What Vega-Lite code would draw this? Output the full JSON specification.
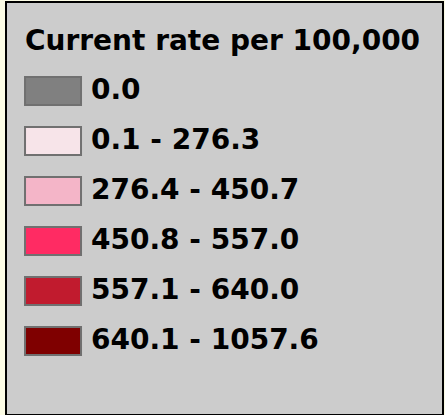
{
  "$schema": "https://vega.github.io/schema/vega-lite/v6.json",
  "width": 445,
  "height": 415,
  "autosize": {"type": "fit", "contains": "padding"},
  "padding": {"left": 6, "top": 2, "right": 2, "bottom": 0},
  "background": "#fbfbe4",
  "view": {"fill": "#cccccc", "stroke": "#000000", "strokeWidth": 2},
  "data": {
    "values": [
      {"range": "0.0", "low": 0, "high": 0},
      {"range": "0.1 - 276.3", "low": 0.1, "high": 276.3},
      {"range": "276.4 - 450.7", "low": 276.4, "high": 450.7},
      {"range": "450.8 - 557.0", "low": 450.8, "high": 557.0},
      {"range": "557.1 - 640.0", "low": 557.1, "high": 640.0},
      {"range": "640.1 - 1057.6", "low": 640.1, "high": 1057.6}
    ]
  },
  "mark": {"type": "rect", "opacity": 0},
  "encoding": {
    "color": {
      "field": "range",
      "type": "nominal",
      "title": "Current rate per 100,000",
      "scale": {
        "domain": ["0.0", "0.1 - 276.3", "276.4 - 450.7", "450.8 - 557.0", "557.1 - 640.0", "640.1 - 1057.6"],
        "range": ["#808080", "#f7e4e9", "#f4b5c8", "#ff2b63", "#c11b2e", "#7f0000"]
      },
      "legend": {
        "orient": "none",
        "legendX": 19,
        "legendY": 26,
        "padding": 0,
        "symbolType": "M-1.07,-1H2.93V1H-1.07Z",
        "symbolSize": 784,
        "symbolStrokeColor": "#707070",
        "symbolStrokeWidth": 2,
        "symbolOpacity": 1,
        "labelFont": "DejaVu Sans",
        "labelFontSize": 28,
        "labelFontWeight": "bold",
        "labelColor": "#000000",
        "labelOffset": 36,
        "labelLimit": 0,
        "titleFont": "DejaVu Sans",
        "titleFontSize": 28,
        "titleFontWeight": "bold",
        "titleColor": "#000000",
        "titleLimit": 0,
        "titlePadding": 20,
        "rowPadding": 14
      }
    }
  }
}
